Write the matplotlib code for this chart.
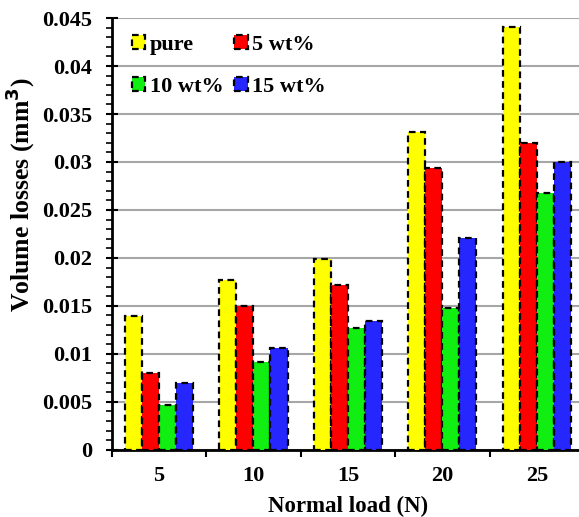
import numpy as np
import matplotlib.pyplot as plt
from matplotlib.ticker import MultipleLocator, FixedLocator

loads = ['5', '10', '15', '20', '25']
pure = [0.0139, 0.0177, 0.0199, 0.0331, 0.0441]
wt5 = [0.0080, 0.0150, 0.0172, 0.0294, 0.0320]
wt10 = [0.0047, 0.0091, 0.0127, 0.0148, 0.0268]
wt15 = [0.0070, 0.0106, 0.0134, 0.0221, 0.0300]

series = [('pure', pure, '#ffff00'), ('5 wt%', wt5, '#ff0000'),
          ('10 wt%', wt10, '#11ee11'), ('15 wt%', wt15, '#2626ff')]

plt.rcParams['font.family'] = ['Liberation Serif', 'DejaVu Serif']
plt.rcParams['font.weight'] = 'bold'

fig = plt.figure(figsize=(5.79, 5.17), dpi=100)
ax = fig.add_axes([0.193, 0.130, 0.816, 0.835])

x = np.arange(len(loads))
w = 0.18
bars = []
for i, (name, vals, col) in enumerate(series):
    b = ax.bar(x + (i - 1.5) * w, vals, w, color=col, edgecolor='black',
               linestyle=(0, (3, 2)), linewidth=1.6, label=name, zorder=3)
    bars.append(b)

ax.set_xlim(-0.5, len(loads) - 0.5)
ax.set_ylim(0, 0.045)
ax.yaxis.set_minor_locator(MultipleLocator(0.001))
yt = np.arange(0, 0.0451, 0.005)
ax.set_yticks(yt)
ax.set_yticklabels(['0', '0.005', '0.01', '0.015', '0.02', '0.025',
                    '0.03', '0.035', '0.04', '0.045'], fontsize=16, fontweight='bold')
ax.grid(axis='y', color='#a6a6a6', linewidth=1.5, zorder=0)

ax.set_xticks(x)
ax.set_xticklabels(loads, fontsize=16, fontweight='bold')
ax.xaxis.set_minor_locator(FixedLocator(np.arange(-0.5, len(loads), 1.0)))
ax.tick_params(axis='x', which='major', length=0, pad=12)
ax.tick_params(axis='x', which='minor', length=5, width=1.5, direction='out')
ax.tick_params(axis='y', which='major', length=8, width=1.5, direction='inout', pad=10)
ax.tick_params(axis='y', which='minor', length=4, width=1.2, direction='out')

for s in ['top', 'right']:
    ax.spines[s].set_visible(False)
for s in ['left', 'bottom']:
    ax.spines[s].set_linewidth(2)

ax.set_xlabel('Normal load (N)', fontsize=16.5, fontweight='bold', labelpad=7)
ax.set_ylabel('Volume losses (mm$^\\mathbf{3}$)', fontsize=18.5, fontweight='bold')
ax.yaxis.set_label_coords(-0.158, 0.59)

order = [0, 2, 1, 3]
ax.legend([bars[k] for k in order], [series[k][0] for k in order],
          ncol=2, loc='upper left', bbox_to_anchor=(0.0, 1.008), frameon=False,
          prop={'size': 16, 'weight': 'bold'}, handlelength=0.6, handleheight=0.6,
          handletextpad=0.2, columnspacing=0.5, labelspacing=1.0)

fig.savefig('out.png', dpi=100)
